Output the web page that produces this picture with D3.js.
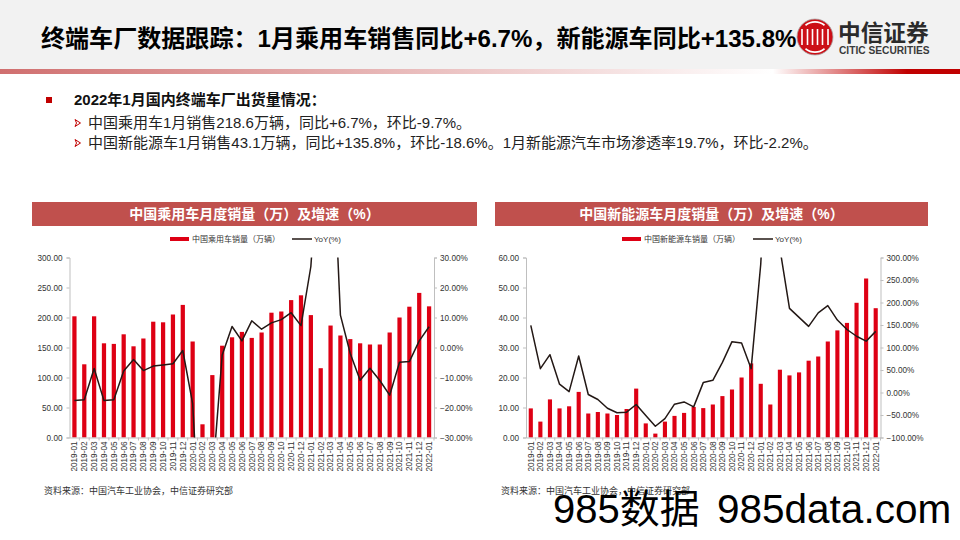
<!DOCTYPE html>
<html>
<head>
<meta charset="utf-8">
<script src="https://cdn.jsdelivr.net/npm/d3@7"></script>
<style>
    html, body { margin: 0; padding: 0; background: #fff; }
    svg { display: block; }
    text { font-family: "Liberation Sans", "Noto Sans CJK SC", sans-serif; }
    .axis text { fill: #333; font-size: 8.2px; }
    .axis path, .axis line { stroke: #bfbfbf; stroke-width: 1; }
    .legend { fill: #333; font-size: 8px; }
    .source { fill: #333; font-size: 9px; }
</style>
</head>
<body>
<svg id="page" width="960" height="540"></svg>
<script>
var months = ["2019-01", "2019-02", "2019-03", "2019-04", "2019-05", "2019-06", "2019-07", "2019-08", "2019-09", "2019-10", "2019-11", "2019-12",
    "2020-01", "2020-02", "2020-03", "2020-04", "2020-05", "2020-06", "2020-07", "2020-08", "2020-09", "2020-10", "2020-11", "2020-12",
    "2021-01", "2021-02", "2021-03", "2021-04", "2021-05", "2021-06", "2021-07", "2021-08", "2021-09", "2021-10", "2021-11", "2021-12", "2022-01"];

var passengerSales = [202, 122, 202, 157, 156, 172, 152, 165, 193, 192, 205, 221,
    160, 22, 104, 153, 167, 176, 166, 175, 208, 210, 229, 237,
    204, 115.5, 186.6, 170, 164, 157, 155, 155, 175, 200, 218, 241, 218.6];
var passengerYoy = [-17.7, -17.4, -7, -17.7, -17.4, -7.8, -4, -7.7, -6.2, -5.8, -5.4, -1,
    -18.7, -78, -44, -2.5, 7, 2.2, 8.9, 6.1, 8.2, 9.3, 11.6, 7.3,
    27, 75, 85, 10.8, -2, -10.9, -6.9, -11, -15.9, -4.9, -4.7, 2.2, 6.9];

var nevSales = [9.7, 5.3, 12.7, 9.7, 10.4, 15.2, 8, 8.5, 8, 7.5, 9.5, 16.3,
    4.7, 1.3, 5.3, 7.2, 8.2, 10.2, 9.8, 11, 13.8, 16, 20, 24.7,
    17.9, 11, 22.6, 20.7, 21.7, 25.6, 27, 32, 35.7, 38.2, 44.9, 53, 43.1];
var nevYoy = [149, 53, 84, 18.5, 2, 81, -4.4, -15.5, -35, -45, -43.7, -26.7,
    -51, -75, -58, -26, -21, -32, 22, 27, 67, 113, 110, 53,
    285, 690, 320, 187, 167, 147, 177, 193, 161, 140, 125, 114, 135.8];

var passengerLeftTicks = [0, 50, 100, 150, 200, 250, 300];
var passengerRightTicks = [-30, -20, -10, 0, 10, 20, 30];
var nevLeftTicks = [0, 10, 20, 30, 40, 50, 60];
var nevRightTicks = [-100, -50, 0, 50, 100, 150, 200, 250, 300];

var headline = "终端车厂数据跟踪：1月乘用车销售同比+6.7%，新能源车同比+135.8%";
var bulletHead = "2022年1月国内终端车厂出货量情况：";
var bulletLines = ["中国乘用车1月销售218.6万辆，同比+6.7%，环比-9.7%。",
    "中国新能源车1月销售43.1万辆，同比+135.8%，环比-18.6%。1月新能源汽车市场渗透率19.7%，环比-2.2%。"];
var sourceText = "资料来源：中国汽车工业协会，中信证券研究部";

var svg = d3.select("#page");

function drawHeader() {
    var grad = svg.append("defs").append("linearGradient").attr("id", "stripe");
    grad.append("stop").attr("offset", "0%").attr("stop-color", "#d06f6f");
    grad.append("stop").attr("offset", "80.5%").attr("stop-color", "#ffffff");
    grad.append("stop").attr("offset", "94.5%").attr("stop-color", "#c00000");
    grad.append("stop").attr("offset", "100%").attr("stop-color", "#c00000");

    svg.append("rect").attr("width", 960).attr("height", 69).attr("fill", "#f2f2f2");
    svg.append("rect").attr("y", 69).attr("width", 960).attr("height", 5).attr("fill", "url(#stripe)");

    svg.append("text")
        .attr("x", 41).attr("y", 47)
        .attr("font-size", "24.07px").attr("font-weight", "bold").attr("fill", "#000")
        .text(headline);

    // logo
    var logo = svg.append("g").attr("transform", "translate(815,37)");
    logo.append("circle").attr("r", 18).attr("fill", "#cc0f16").attr("stroke", "#aaa").attr("stroke-width", 0.8);
    logo.append("path")
        .attr("d", "M-10,-12.5 A16,16 0 0 1 10,-12.5 L9,-11 A14,14 0 0 0 -9,-11 Z")
        .attr("fill", "#fff");
    logo.append("path")
        .attr("d", "M-10,12.5 A16,16 0 0 0 10,12.5 L9,11 A14,14 0 0 1 -9,11 Z")
        .attr("fill", "#fff");
    [-13, -7.5, -2.5, 2.5, 7.5, 13].forEach(function (dx) {
        logo.append("rect").attr("x", dx - 0.8).attr("y", -8).attr("width", 1.6).attr("height", 16).attr("fill", "#fff");
    });
    svg.append("text")
        .attr("x", 838).attr("y", 41)
        .attr("font-size", "22.7px").attr("font-weight", "bold").attr("fill", "#2b2b2b")
        .text("中信证券");
    svg.append("text")
        .attr("x", 839).attr("y", 53.5)
        .attr("font-size", "10.2px").attr("font-weight", "bold").attr("fill", "#3a3a3a")
        .text("CITIC SECURITIES");
}

function drawBullets() {
    svg.append("rect").attr("x", 46).attr("y", 97).attr("width", 6).attr("height", 6).attr("fill", "#c00000");
    svg.append("text")
        .attr("x", 74).attr("y", 104.5)
        .attr("font-size", "15px").attr("font-weight", "bold").attr("fill", "#111")
        .text(bulletHead);

    var rows = svg.selectAll(".row")
        .data(bulletLines)
        .enter()
        .append("g")
        .attr("class", "row")
        .attr("transform", function (d, i) {
            return "translate(0," + (127.5 + i * 20) + ")";
        });
    rows.append("path")
        .attr("d", "M75,-8 L80.5,-4.5 L75,-1 L76.5,-4.5 Z")
        .attr("fill", "#fff")
        .attr("stroke", "#c00000")
        .attr("stroke-width", 1);
    rows.append("text")
        .attr("x", 88)
        .attr("font-size", "15px")
        .attr("fill", "#222")
        .text(function (d) { return d; });
}

function drawChart(opt) {
    svg.append("rect")
        .attr("x", opt.panel[0]).attr("y", 202)
        .attr("width", opt.panel[1] - opt.panel[0]).attr("height", 24)
        .attr("fill", "#c0504d");
    svg.append("text")
        .attr("x", (opt.panel[0] + opt.panel[1]) / 2).attr("y", 219)
        .attr("text-anchor", "middle")
        .attr("font-size", "14px").attr("font-weight", "bold").attr("fill", "#fff")
        .text(opt.title);

    var top = 257.5, bottom = 437.5;
    var x = d3.scaleBand().domain(months).range([opt.left, opt.right]).paddingInner(0.57).paddingOuter(0.285);
    var yBar = d3.scaleLinear().domain(opt.barDomain).range([bottom, top]);
    var yLine = d3.scaleLinear().domain(opt.lineDomain).range([bottom, top]);

    svg.append("clipPath")
        .attr("id", opt.id + "-clip")
        .append("rect")
        .attr("x", opt.left).attr("y", top)
        .attr("width", opt.right - opt.left).attr("height", bottom - top);

    svg.selectAll(".bar-" + opt.id)
        .data(opt.sales)
        .enter()
        .append("rect")
        .attr("class", "bar-" + opt.id)
        .attr("x", function (d, i) { return x(months[i]); })
        .attr("y", function (d) { return yBar(d); })
        .attr("width", x.bandwidth())
        .attr("height", function (d) { return bottom - yBar(d); })
        .attr("fill", "#de0014");

    var leftAxis = svg.append("g")
        .attr("class", "axis")
        .attr("transform", "translate(" + opt.left + ",0)")
        .call(d3.axisLeft(yBar).tickValues(opt.leftTicks).tickSize(3).tickSizeOuter(3).tickFormat(d3.format(".2f")));
    leftAxis.selectAll("text").attr("dx", "-1px");

    svg.append("g")
        .attr("class", "axis")
        .attr("transform", "translate(" + opt.right + ",0)")
        .call(d3.axisRight(yLine).tickValues(opt.rightTicks).tickSize(3).tickSizeOuter(3)
            .tickFormat(function (d) { return d3.format(".2f")(d) + "%"; }));

    var bottomAxis = svg.append("g")
        .attr("class", "axis")
        .attr("transform", "translate(0," + bottom + ")")
        .call(d3.axisBottom(x).tickSize(0).tickSizeOuter(0));
    bottomAxis.selectAll("text")
        .attr("transform", "rotate(-90)")
        .attr("text-anchor", "end")
        .attr("x", -4)
        .attr("y", 0)
        .attr("dy", "0.35em");

    // ticks sit between the months, not under them
    var step = x.step();
    bottomAxis.selectAll(".sep")
        .data(months)
        .enter()
        .append("line")
        .attr("class", "sep")
        .attr("x1", function (d) { return x(d) + x.bandwidth() / 2 + step / 2; })
        .attr("x2", function (d) { return x(d) + x.bandwidth() / 2 + step / 2; })
        .attr("y1", 0)
        .attr("y2", 3);

    var line = d3.line()
        .x(function (d, i) { return x(months[i]) + x.bandwidth() / 2; })
        .y(function (d) { return yLine(d); });

    svg.append("path")
        .datum(opt.yoy)
        .attr("clip-path", "url(#" + opt.id + "-clip)")
        .attr("fill", "none")
        .attr("stroke", "#231815")
        .attr("stroke-width", 1.5)
        .attr("stroke-linejoin", "round")
        .attr("d", line);

    // legend
    svg.append("rect")
        .attr("x", opt.legendBar).attr("y", 237)
        .attr("width", 19).attr("height", 4)
        .attr("fill", "#de0014");
    svg.append("text")
        .attr("class", "legend")
        .attr("x", opt.legendBar + 22).attr("y", 242)
        .text(opt.legendName);
    svg.append("line")
        .attr("x1", opt.legendLine).attr("x2", opt.legendLine + 20)
        .attr("y1", 239).attr("y2", 239)
        .attr("stroke", "#231815").attr("stroke-width", 1.5);
    svg.append("text")
        .attr("class", "legend")
        .attr("x", opt.legendLine + 22).attr("y", 242)
        .text("YoY(%)");

    svg.append("text")
        .attr("class", "source")
        .attr("x", opt.sourceX).attr("y", 494)
        .text(sourceText);
}

drawHeader();
drawBullets();

drawChart({
    id: "passenger",
    title: "中国乘用车月度销量（万）及增速（%）",
    panel: [32, 477],
    left: 69.5,
    right: 434,
    barDomain: [0, 300],
    lineDomain: [-30, 30],
    leftTicks: passengerLeftTicks,
    rightTicks: passengerRightTicks,
    sales: passengerSales,
    yoy: passengerYoy,
    legendBar: 170,
    legendLine: 292,
    legendName: "中国乘用车销量（万辆）",
    sourceX: 44
});

drawChart({
    id: "nev",
    title: "中国新能源车月度销量（万）及增速（%）",
    panel: [495, 928],
    left: 526,
    right: 880.5,
    barDomain: [0, 60],
    lineDomain: [-100, 300],
    leftTicks: nevLeftTicks,
    rightTicks: nevRightTicks,
    sales: nevSales,
    yoy: nevYoy,
    legendBar: 622,
    legendLine: 753,
    legendName: "中国新能源车销量（万辆）",
    sourceX: 501
});

svg.append("text")
    .attr("x", 553).attr("y", 523)
    .attr("font-size", "40px").attr("fill", "#000")
    .text("985数据");
svg.append("text")
    .attr("x", 717).attr("y", 523)
    .attr("font-size", "40.5px").attr("fill", "#000")
    .text("985data.com");
</script>
</body>
</html>
